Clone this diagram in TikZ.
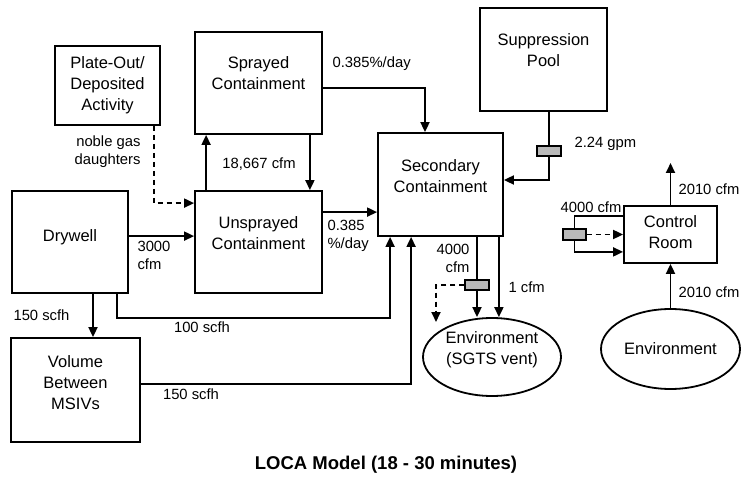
\documentclass[tikz,border=0pt]{standalone}
\usepackage{fontspec}
\setmainfont{Liberation Sans}
\usepackage{tikz}
\usetikzlibrary{
  shapes.geometric, arrows.meta
}
\tikzset{
  box/.style={draw, line width=1.8pt, rectangle, inner sep=0pt},
  vent/.style={draw, line width=1.8pt, ellipse, inner sep=0pt},
  valve/.style={draw, line width=1.3pt, fill=gray!55, minimum width=24pt,
    minimum height=10pt, inner sep=0pt},
  boxtext/.style={font=\fontsize{16.5}{21}\selectfont, align=center},
  lbl/.style={font=\fontsize{14.8}{18}\selectfont},
  flow/.style={line width=1.8pt, -{Triangle[length=10pt,width=9pt]}},
  flowdash/.style={flow, dash pattern=on 5pt off 4pt},
  pipe/.style={line width=1.8pt}
}

\begin{document}
\begin{tikzpicture}[x=1pt, y=-1pt]
  \useasboundingbox (0,0) rectangle (741,478);

  % Boxes
  \node[box, minimum width=105pt, minimum height=79pt] (plate) at (107.5,85.5) {};
  \node[box, minimum width=127pt, minimum height=102pt] (spray) at (258.5,83) {};
  \node[box, minimum width=127pt, minimum height=102pt] (unspray) at (258.5,242) {};
  \node[box, minimum width=116pt, minimum height=102pt] (dry) at (70,242) {};
  \node[box, minimum width=129pt, minimum height=104pt] (msiv) at (75.5,390) {};
  \node[box, minimum width=125pt, minimum height=103pt] (sec) at (440.5,184.5) {};
  \node[box, minimum width=127pt, minimum height=103pt] (pool) at (543.5,59.5) {};
  \node[box, minimum width=93pt, minimum height=57pt] (ctrl) at (670.5,234.5) {};
  \node[vent, minimum width=138pt, minimum height=78pt] (envA) at (492,357) {};
  \node[vent, minimum width=139pt, minimum height=80pt] (envB) at (670.5,349) {};

  % Box texts
  \node[boxtext] (plate-t) at (107.5,85.5) {Plate-Out/\\Deposited\\Activity};
  \node[boxtext] (spray-t) at (258.5,73) {Sprayed\\Containment};
  \node[boxtext] (unspray-t) at (258.5,233) {Unsprayed\\Containment};
  \node[boxtext] (dry-t) at (70,237) {Drywell};
  \node[boxtext] (msiv-t) at (75.5,383) {Volume\\Between\\MSIVs};
  \node[boxtext] (sec-t) at (440.5,176) {Secondary\\Containment};
  \node[boxtext] (pool-t) at (543.5,50) {Suppression\\Pool};
  \node[boxtext] (ctrl-t) at (670.5,232) {Control\\Room};
  \node[boxtext] (envA-t) at (492,350) {Environment\\(SGTS vent)};
  \node[boxtext] (envB-t) at (670.5,349) {Environment};

  % Valves
  \node[valve] (vpool) at (549,151) {};
  \node[valve] (vsec) at (477,285) {};
  \node[valve, minimum width=23pt, minimum height=11pt] (vctrl) at (574.5,234.5) {};
  \coordinate (byp) at (436,322);
  \coordinate (cout) at (670.5,163);

  % Flows
  \draw[flowdash] ([xshift=-7pt]plate.south east) |- ([yshift=-13pt]unspray.north west);
  \draw[flow] ([xshift=12pt]unspray.north west) -- ([xshift=12pt]spray.south west);
  \draw[flow] ([xshift=-13pt]spray.south east) -- ([xshift=-13pt]unspray.north east);
  \draw[flow] ([yshift=-46pt]dry.north east) -- ([yshift=-46pt]unspray.north west);
  \draw[flow] ([yshift=-22pt]unspray.north east) coordinate (u) -- (sec.west |- u);
  \draw[flow] ([yshift=-5pt]spray.east) -| ([xshift=-15.5pt]sec.north);
  \draw[flow] ([xshift=-12pt]dry.south east) -- ++(0,24) -| ([xshift=13pt]sec.south west);
  \draw[flow] ([yshift=6pt]msiv.east) -| ([xshift=34pt]sec.south west);
  \draw[flow] ([xshift=23pt]dry.south) coordinate (d) -- (d |- msiv.north);
  \draw[pipe] (pool.south -| vpool) -- (vpool.north);
  \draw[flow] (vpool.south) |- ([yshift=4.5pt]sec.east);
  \draw[pipe] (sec.south -| vsec) -- (vsec.north);
  \draw[flow] (vsec.south) -- (vsec |- envA.north);
  \draw[flowdash] (vsec.west) -| (byp);
  \draw[flow] ([xshift=-5pt]sec.south east) coordinate (s) -- (s |- envA.north);
  \draw[pipe] ([yshift=-11pt]ctrl.north west) -| (vctrl.north);
  \draw[flowdash] (vctrl.east) -- (ctrl.west |- vctrl.east);
  \draw[flow] (vctrl.south) |- ([yshift=12pt]ctrl.south west);
  \draw[flow] (ctrl.north) -- (cout);
  \draw[flow] (envB.north) -- (ctrl.south);

  % Labels
  \node[lbl, align=right, anchor=east] at (144,151.5) {noble gas\\daughters};
  \node[lbl] at (259,164) {18,667 cfm};
  \node[lbl, anchor=west] at (329,64) {0.385\%/day};
  \node[lbl, align=left, anchor=west] at (134,255) {3000\\cfm};
  \node[lbl, align=left, anchor=west] at (324,236) {0.385\\\%/day};
  \node[lbl, anchor=west] at (10,315) {150 scfh};
  \node[lbl] at (202,327) {100 scfh};
  \node[lbl] at (191,394) {150 scfh};
  \node[lbl, anchor=west] at (571,144) {2.24 gpm};
  \node[lbl, align=right, anchor=east] at (473,258) {4000\\cfm};
  \node[lbl, anchor=west] at (505,287) {1 cfm};
  \node[lbl] at (591,207) {4000 cfm};
  \node[lbl, anchor=west] at (675,189) {2010 cfm};
  \node[lbl, anchor=west] at (675,292) {2010 cfm};

  % Title
  \node[font=\fontsize{18.5}{22}\selectfont\bfseries] at (386,465) {LOCA Model (18 - 30 minutes)};

\end{tikzpicture}
\end{document}
